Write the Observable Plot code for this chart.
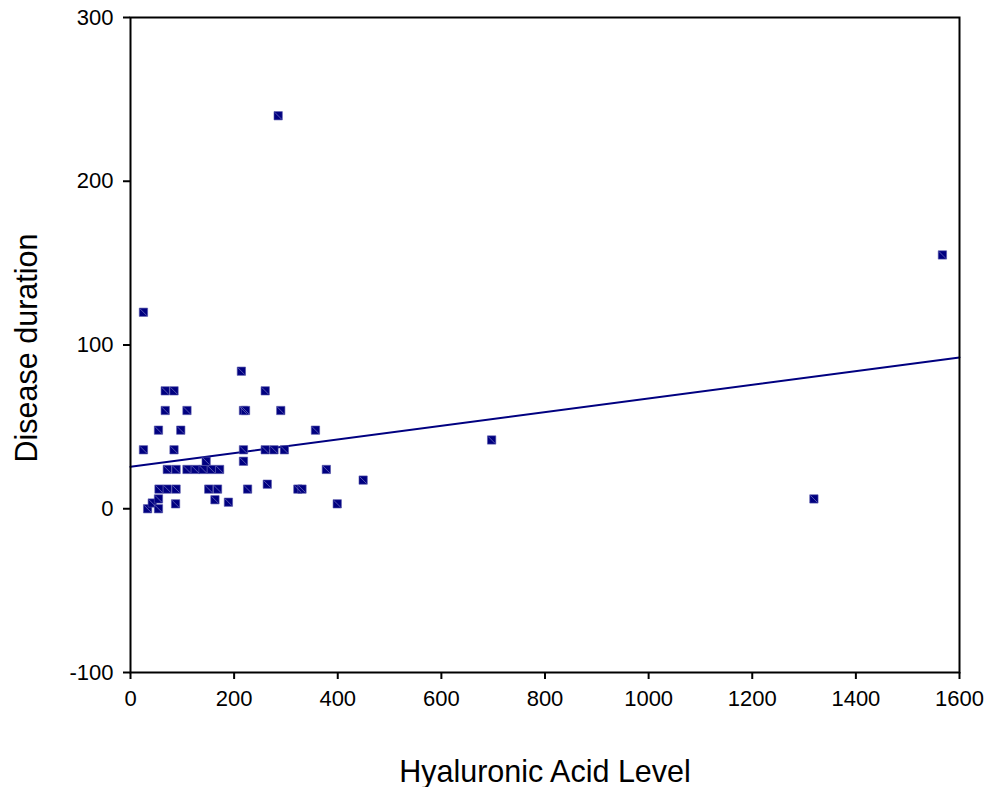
<!DOCTYPE html>
<html>
<head>
<meta charset="utf-8">
<script src="https://cdn.jsdelivr.net/npm/d3@7"></script>
<script src="https://cdn.jsdelivr.net/npm/@observablehq/plot@0.6"></script>
<style>
  html, body { margin: 0; padding: 0; background: #fff; }
</style>
</head>
<body>
<div id="chart"></div>
<script>
// Hyaluronic acid level (x) and disease duration (y)
const haLevel = [
  25, 25, 33, 42, 54, 54, 55, 71, 88, 87,
  54, 97, 67, 109, 67, 84, 84, 71, 88, 109,
  125, 140, 156, 172, 146, 151, 168, 163, 189, 214,
  218, 222, 218, 218, 226, 260, 290, 260, 277, 297,
  264, 285, 323, 331, 357, 378, 399, 449, 697, 1319,
  1567
];
const duration = [
  120, 36, 0, 3.5, 6, 0, 12, 12, 12, 3,
  48, 48, 60, 60, 72, 72, 36, 24, 24, 24,
  24, 24, 24, 24, 29, 12, 12, 5.5, 4, 84,
  60, 60, 36, 29, 12, 72, 60, 36, 36, 36,
  15, 240, 12, 12, 48, 24, 3, 17.5, 42, 6,
  155
];
// Fitted regression line (as drawn in the picture)
const fitX = [0, 1600];
const fitY = [25.6, 92.4];

const xTicks = [0, 200, 400, 600, 800, 1000, 1200, 1400, 1600];
const yTicks = [-100, 0, 100, 200, 300];
const xLabel = "Hyaluronic Acid Level";
const yLabel = "Disease duration";

const points = haLevel.map((x, i) => ({x, y: duration[i]}));
const fit = fitX.map((x, i) => ({x, y: fitY[i]}));

const diagonal = {
  draw(context, size) {
    const h = Math.sqrt(size) / 2 - 0.8;
    context.moveTo(-h, -h);
    context.lineTo(h, h);
  }
};

const chart = Plot.plot({
  width: 998,
  height: 787,
  marginLeft: 130,
  marginRight: 39,
  marginTop: 17,
  marginBottom: 115,
  style: {fontFamily: "Liberation Sans, Arial, sans-serif", fontSize: "22px", color: "#000", background: "#fff"},
  x: {domain: [0, 1600], label: null},
  y: {domain: [-100, 300], label: null},
  marks: [
    Plot.axisX({ticks: xTicks, tickSize: 7, tickPadding: 11, tickFormat: d => String(d), strokeWidth: 2, fontSize: 22, label: null}),
    Plot.axisY({ticks: yTicks, tickSize: 7, tickPadding: 10, tickFormat: d => String(d), strokeWidth: 2, fontSize: 22, label: null}),
    Plot.line(fit, {x: "x", y: "y", stroke: "#000080", strokeWidth: 2}),
    Plot.dot(points, {x: "x", y: "y", symbol: "square", r: 4.7, fill: "#000080", stroke: "#5555aa", strokeWidth: 0.6}),
    Plot.dot(points, {x: "x", y: "y", symbol: diagonal, r: 4.7, fill: "none", stroke: "#7777c4", strokeWidth: 0.7}),
    Plot.frame({stroke: "#000", strokeWidth: 2}),
    Plot.text([xLabel], {frameAnchor: "bottom", dy: 100, lineAnchor: "middle", text: d => d, fontSize: 30.5, fill: "#000"}),
    Plot.text([yLabel], {frameAnchor: "left", dx: -103, dy: 3, rotate: -90, lineAnchor: "middle", textAnchor: "middle", text: d => d, fontSize: 30.5, fill: "#000"})
  ]
});
document.getElementById("chart").appendChild(chart);
</script>
</body>
</html>
